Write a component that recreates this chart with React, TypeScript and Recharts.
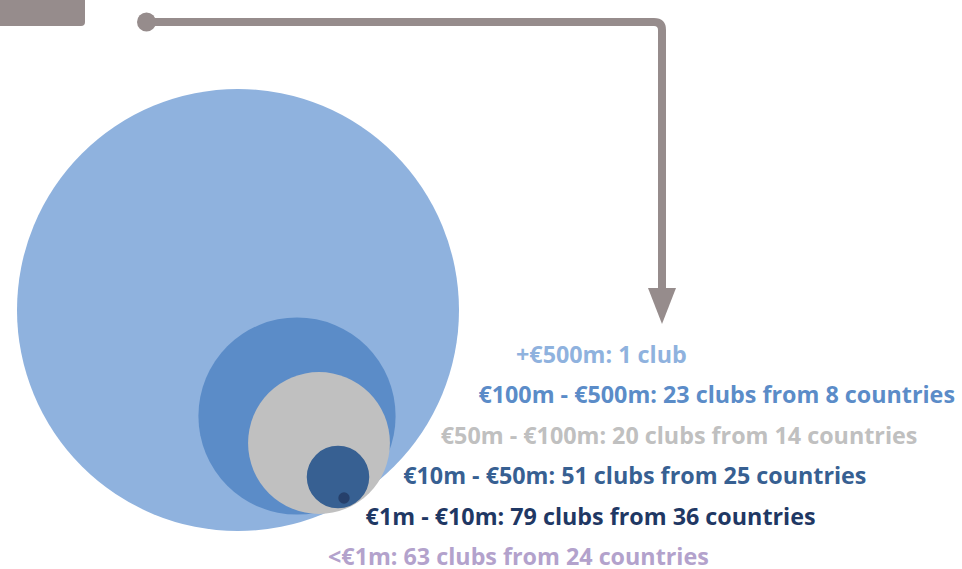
import { ScatterChart, Scatter, XAxis, YAxis, ZAxis, Cell, Customized } from 'recharts'

// revenue bands, from largest bubble to smallest
const bands = ['+€500m', '€100m - €500m', '€50m - €100m', '€10m - €50m', '€1m - €10m', '<€1m']
const clubs = [1, 23, 20, 51, 79, 63]
const countries = [null, 8, 14, 25, 36, 24]

// bubble centres (chart units) and relative bubble area
const bubbleX = [238, 297, 319, 338, 344]
const bubbleY = [310, 416, 443, 477, 498]
const bubbleArea = [100, 19.9, 10.3, 2.0, 0.066]

const bubbleColors = ['#8fb2de', '#5b8cc8', '#c0c0c0', '#376092', '#26406b']
const textColors = ['#8fb2de', '#5b8cc8', '#c0c0c0', '#376092', '#1f3864', '#b3a2cc']

const W = 962
const H = 569
const MAX_R = 221

const bubbles = bubbleX.map((x, i) => ({ x, y: bubbleY[i], z: bubbleArea[i], band: bands[i] }))

const labels = bands.map((b, i) =>
  i === 0 ? `${b}: ${clubs[i]} club` : `${b}: ${clubs[i]} clubs from ${countries[i]} countries`,
)

const grey = '#968c8c'

function Decorations() {
  return (
    <g>
      <path d="M0 0 H85 V22 Q85 26 81 26 H0 Z" fill={grey} />
      <circle cx={146.5} cy={22} r={9.5} fill={grey} />
      <path d="M146 22 H654 Q662 22 662 30 V292" stroke={grey} strokeWidth={8} fill="none" />
      <path d="M648 288 L676 288 L662 324 Z" fill={grey} />
      {labels.map((t, i) => (
        <text
          key={t}
          x={516 - i * 37.6}
          y={363 + i * 40.4}
          fill={textColors[i]}
          fontFamily="'Open Sans', sans-serif"
          fontWeight={700}
          fontSize={23.3}
        >
          {t}
        </text>
      ))}
    </g>
  )
}

export default function App() {
  return (
    <div style={{ position: 'absolute', left: 0, top: 0, width: W, height: H, background: '#fff' }}>
      <ScatterChart width={W} height={H} margin={{ top: 0, right: 0, bottom: 0, left: 0 }}>
        <XAxis type="number" dataKey="x" domain={[0, W]} hide />
        <YAxis type="number" dataKey="y" domain={[0, H]} reversed hide />
        <ZAxis type="number" dataKey="z" domain={[0, 100]} range={[0, Math.PI * MAX_R * MAX_R]} />
        <Customized component={Decorations} />
        <Scatter data={bubbles} shape="circle" isAnimationActive={false}>
          {bubbles.map((b, i) => (
            <Cell key={b.band} fill={bubbleColors[i]} />
          ))}
        </Scatter>
      </ScatterChart>
    </div>
  )
}
